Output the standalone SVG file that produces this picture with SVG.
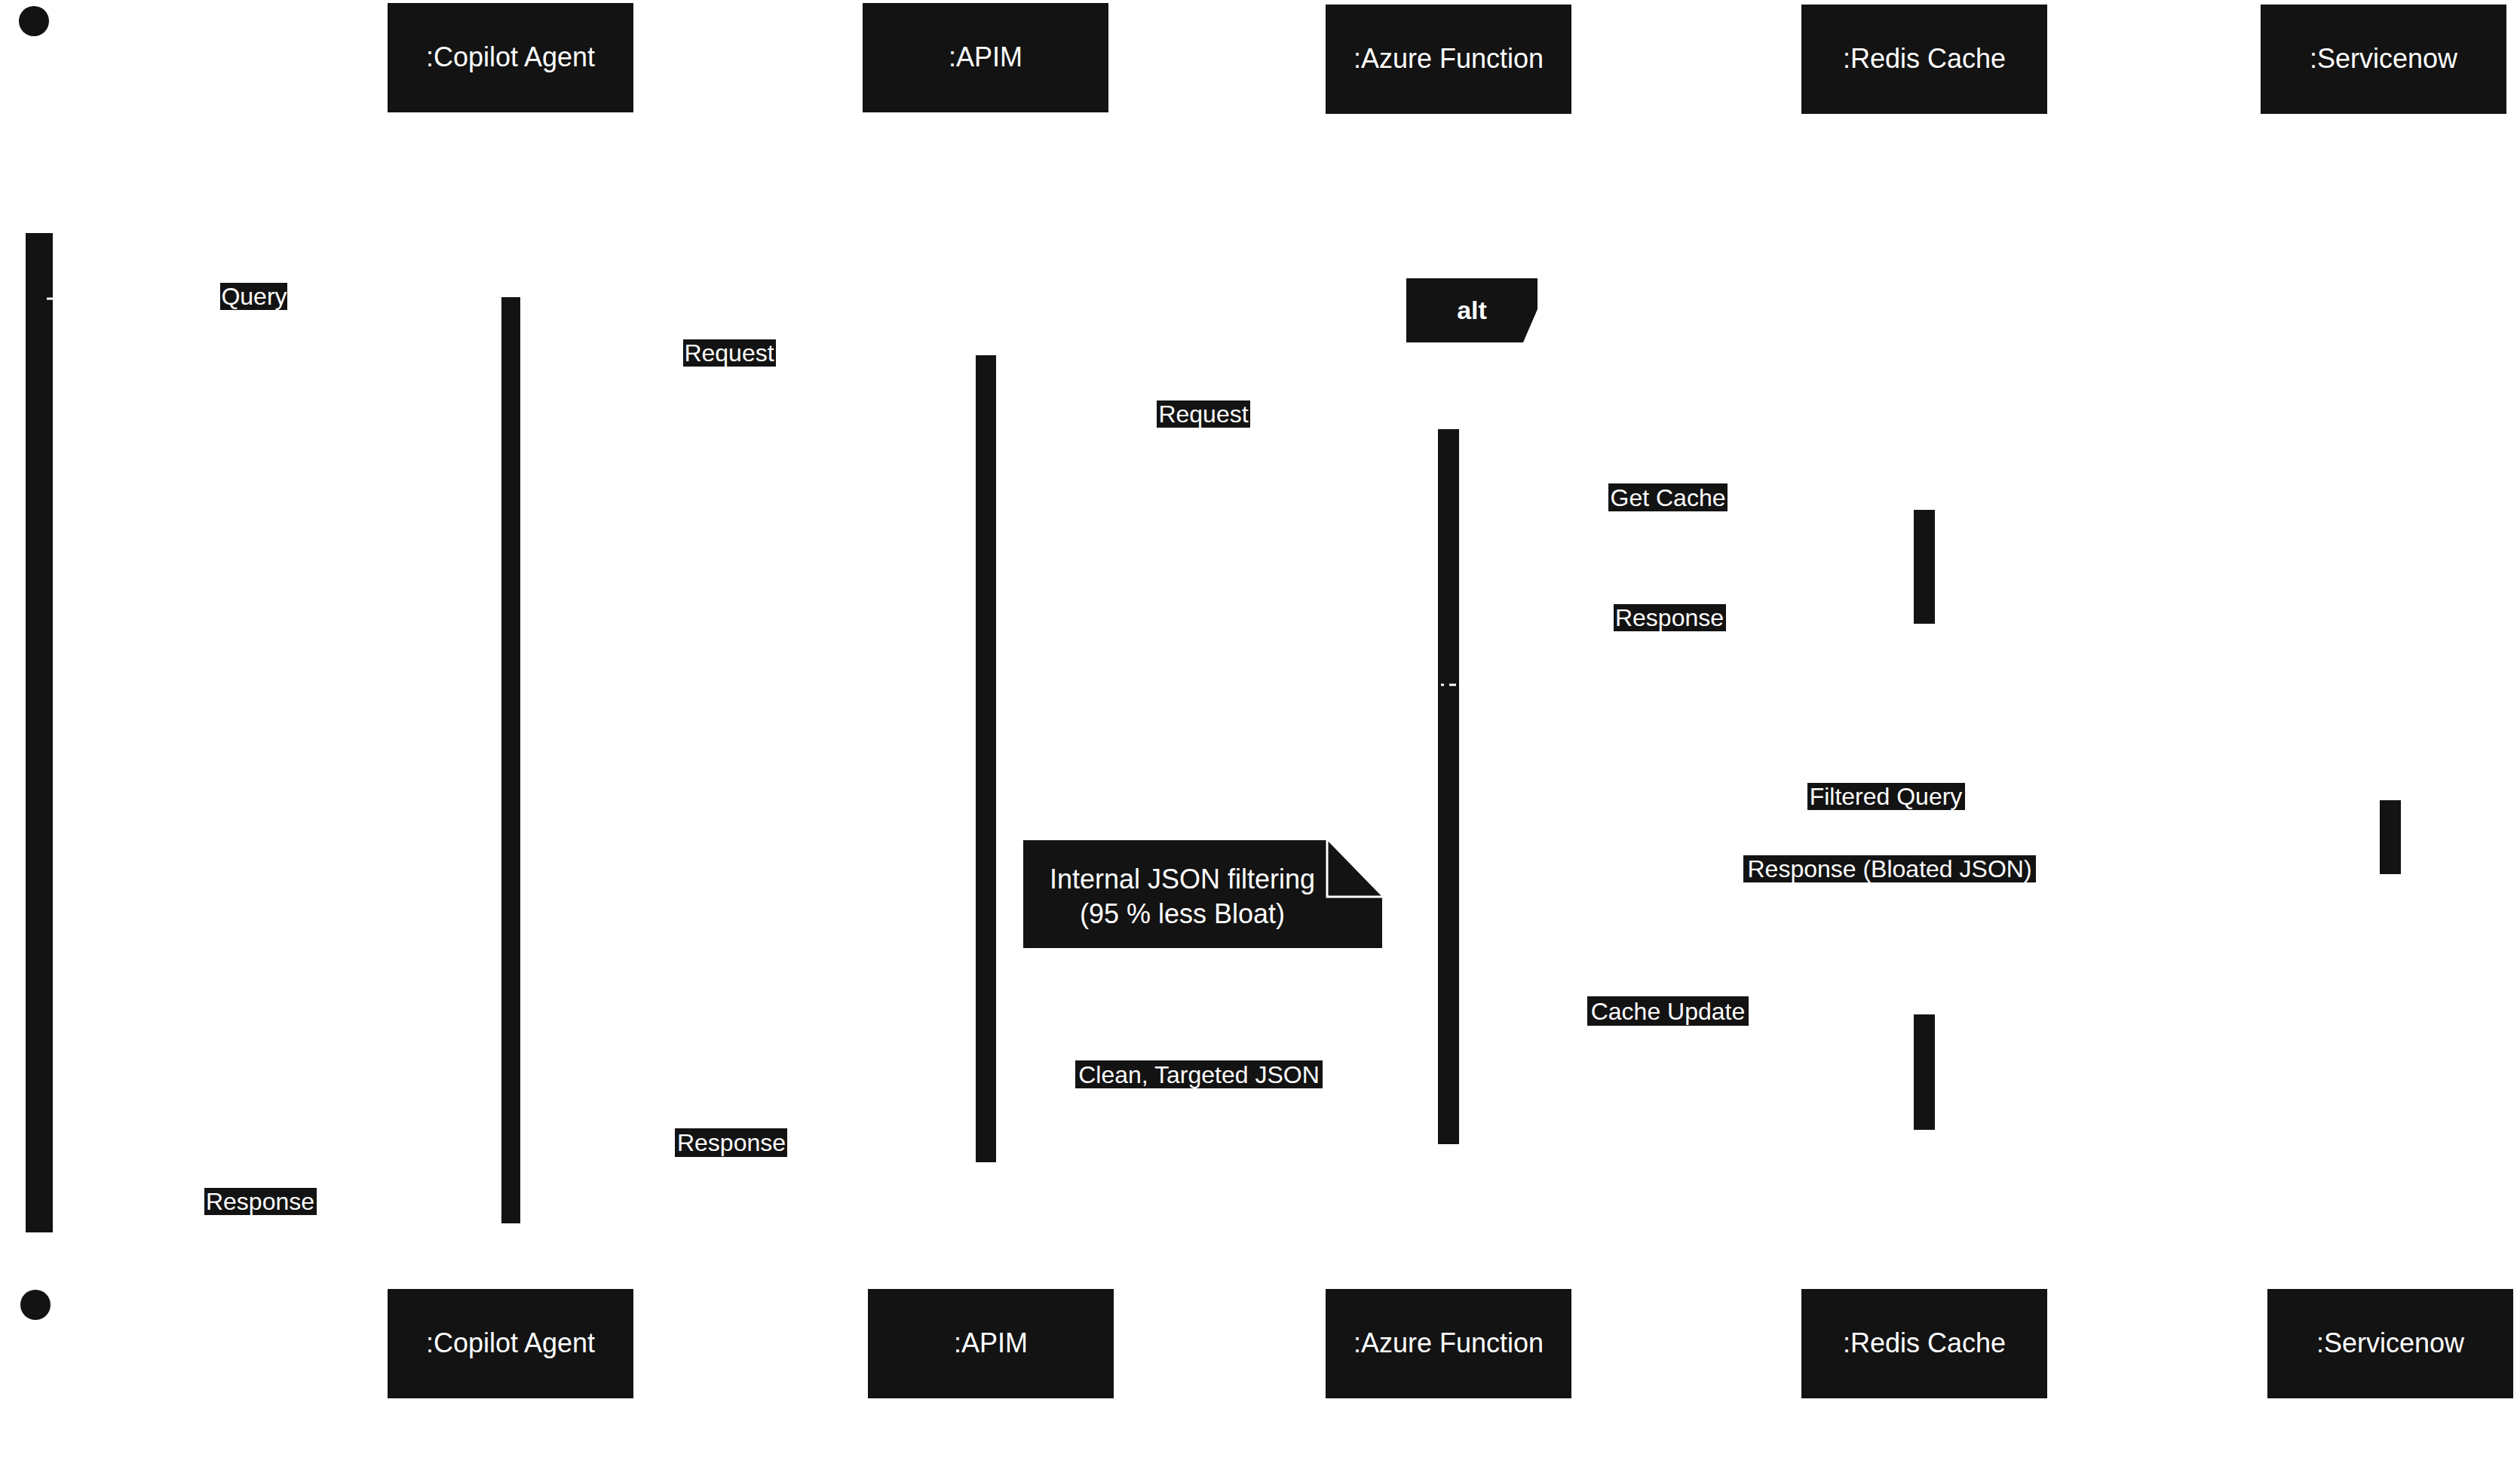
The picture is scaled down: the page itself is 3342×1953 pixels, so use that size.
<svg xmlns="http://www.w3.org/2000/svg" width="3342" height="1953" viewBox="0 0 3342 1953">
<style>
.b{fill:#131313}
.t{font-family:"Liberation Sans",Arial,sans-serif;fill:#fff;text-anchor:middle}
.n{font-size:36px}
.l{font-size:32px}
.w{stroke:#fff;stroke-width:3;fill:none}
</style>
<rect width="3342" height="1953" fill="#fff"/>
<g id="start-top"><circle class="b" cx="45" cy="28" r="20"/></g>
<g id="start-bottom"><circle class="b" cx="47" cy="1730" r="20"/></g>
<g id="copilot-top"><rect class="b" x="514" y="4" width="326" height="145"/><text class="t n" x="677" y="88">:Copilot Agent</text></g>
<g id="apim-top"><rect class="b" x="1144" y="4" width="326" height="145"/><text class="t n" x="1307" y="88">:APIM</text></g>
<g id="azure-top"><rect class="b" x="1758" y="6" width="326" height="145"/><text class="t n" x="1921" y="90">:Azure Function</text></g>
<g id="redis-top"><rect class="b" x="2389" y="6" width="326" height="145"/><text class="t n" x="2552" y="90">:Redis Cache</text></g>
<g id="servicenow-top"><rect class="b" x="2998" y="6" width="326" height="145"/><text class="t n" x="3161" y="90">:Servicenow</text></g>
<g id="copilot-bottom"><rect class="b" x="514" y="1709" width="326" height="145"/><text class="t n" x="677" y="1793">:Copilot Agent</text></g>
<g id="apim-bottom"><rect class="b" x="1151" y="1709" width="326" height="145"/><text class="t n" x="1314" y="1793">:APIM</text></g>
<g id="azure-bottom"><rect class="b" x="1758" y="1709" width="326" height="145"/><text class="t n" x="1921" y="1793">:Azure Function</text></g>
<g id="redis-bottom"><rect class="b" x="2389" y="1709" width="326" height="145"/><text class="t n" x="2552" y="1793">:Redis Cache</text></g>
<g id="servicenow-bottom"><rect class="b" x="3007" y="1709" width="326" height="145"/><text class="t n" x="3170" y="1793">:Servicenow</text></g>
<g id="activations">
<rect class="b" x="34" y="309" width="36" height="1325"/>
<rect class="b" x="665" y="394" width="25" height="1228"/>
<rect class="b" x="1294" y="471" width="27" height="1070"/>
<rect class="b" x="1907" y="569" width="28" height="948"/>
<rect class="b" x="2538" y="676" width="28" height="151"/>
<rect class="b" x="2538" y="1345" width="28" height="153"/>
<rect class="b" x="3156" y="1061" width="28" height="98"/>
</g>
<g id="alt"><polygon class="b" points="1865,369 2039,369 2039,410 2020,454 1865,454"/><text class="t" x="1952" y="423" font-size="34" font-weight="bold">alt</text></g>
<g id="note"><polygon class="b" points="1357,1114 1760,1114 1833,1189 1833,1257 1357,1257"/><path class="w" d="M1760,1114 V1189 H1833"/><text class="t n" x="1568" y="1178">Internal JSON filtering</text><text class="t n" x="1568" y="1224">(95 % less Bloat)</text></g>
<g id="connectors">
<path class="w" d="M62,396 H70"/>
<path class="w" d="M1911,908 H1915 M1922,908 H1931"/>
<rect class="b" x="292" y="375" width="89" height="36"/><text class="t l" x="337" y="404">Query</text>
<rect class="b" x="906" y="450" width="123" height="36"/><text class="t l" x="967" y="479">Request</text>
<rect class="b" x="1534" y="531" width="124" height="36"/><text class="t l" x="1596" y="560">Request</text>
<rect class="b" x="2133" y="641" width="158" height="37"/><text class="t l" x="2212" y="671">Get Cache</text>
<rect class="b" x="2140" y="801" width="149" height="36"/><text class="t l" x="2214" y="830">Response</text>
<rect class="b" x="2397" y="1038" width="209" height="36"/><text class="t l" x="2501" y="1067">Filtered Query</text>
<rect class="b" x="2312" y="1134" width="388" height="36"/><text class="t l" x="2506" y="1163">Response (Bloated JSON)</text>
<rect class="b" x="2105" y="1321" width="214" height="39"/><text class="t l" x="2212" y="1352">Cache Update</text>
<rect class="b" x="1426" y="1406" width="328" height="37"/><text class="t l" x="1590" y="1436">Clean, Targeted JSON</text>
<rect class="b" x="895" y="1496" width="149" height="38"/><text class="t l" x="970" y="1526">Response</text>
<rect class="b" x="271" y="1575" width="149" height="36"/><text class="t l" x="345" y="1604">Response</text>
</g>
</svg>
